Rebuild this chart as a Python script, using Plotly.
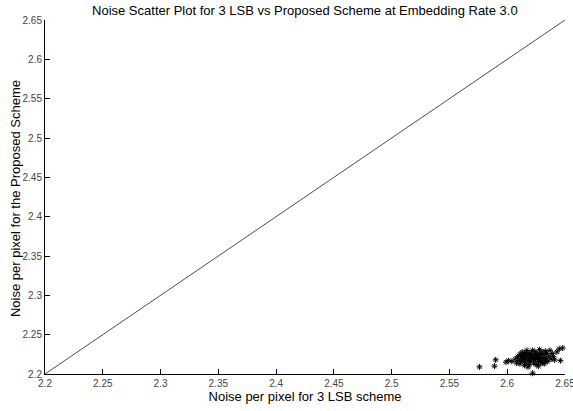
import plotly.graph_objects as go

x_lsb = [2.576, 2.589, 2.590, 2.599, 2.601, 2.604, 2.607, 2.608, 2.609, 2.610,
         2.611, 2.611, 2.612, 2.613, 2.613, 2.614, 2.615, 2.615, 2.616, 2.616,
         2.617, 2.617, 2.618, 2.618, 2.619, 2.619, 2.620, 2.620, 2.621, 2.621,
         2.622, 2.622, 2.623, 2.623, 2.624, 2.624, 2.625, 2.625, 2.626, 2.626,
         2.627, 2.627, 2.628, 2.628, 2.629, 2.629, 2.630, 2.630, 2.631, 2.632,
         2.632, 2.633, 2.634, 2.634, 2.635, 2.636, 2.637, 2.638, 2.639, 2.640,
         2.641, 2.643, 2.645, 2.646, 2.648, 2.612, 2.618, 2.622, 2.627, 2.633,
         2.614, 2.620, 2.625, 2.630, 2.617, 2.624]
y_prop = [2.209, 2.210, 2.218, 2.215, 2.217, 2.216, 2.219, 2.214, 2.222, 2.217,
          2.225, 2.213, 2.220, 2.228, 2.216, 2.222, 2.211, 2.226, 2.219, 2.214,
          2.230, 2.222, 2.217, 2.225, 2.212, 2.221, 2.227, 2.216, 2.223, 2.219,
          2.201, 2.225, 2.214, 2.221, 2.228, 2.218, 2.223, 2.212, 2.220, 2.226,
          2.216, 2.223, 2.231, 2.219, 2.225, 2.214, 2.221, 2.228, 2.218, 2.224,
          2.213, 2.229, 2.220, 2.226, 2.216, 2.223, 2.230, 2.219, 2.226, 2.222,
          2.218, 2.228, 2.232, 2.217, 2.233, 2.224, 2.209, 2.230, 2.210, 2.217,
          2.218, 2.222, 2.226, 2.215, 2.226, 2.220]

diag = [2.2, 2.65]
ticks = [2.2, 2.25, 2.3, 2.35, 2.4, 2.45, 2.5, 2.55, 2.6, 2.65]
tick_text = ["2.2", "2.25", "2.3", "2.35", "2.4", "2.45", "2.5", "2.55", "2.6", "2.65"]

FONT = "Arial, Liberation Sans, sans-serif"

fig = go.Figure()
fig.add_trace(go.Scatter(x=diag, y=diag, mode="lines",
                         line=dict(color="black", width=0.7), showlegend=False,
                         cliponaxis=False))
fig.add_trace(go.Scatter(x=x_lsb, y=y_prop, mode="markers",
                         marker=dict(symbol="asterisk-open", size=5, color="black",
                                     line=dict(color="black", width=1)),
                         showlegend=False, cliponaxis=False))

axis_common = dict(range=[2.2, 2.65], tickvals=ticks, ticktext=tick_text,
                   ticks="inside", ticklen=5, tickcolor="black",
                   showline=True, linecolor="black", linewidth=1,
                   showgrid=False, zeroline=False, automargin=False,
                   ticklabeloverflow="allow",
                   tickfont=dict(family=FONT, size=10, color="#444"),
                   mirror=False)

fig.update_layout(
    width=573, height=411,
    margin=dict(l=45, r=8, t=20, b=37),
    paper_bgcolor="white", plot_bgcolor="white",
    title=dict(text="Noise Scatter Plot for 3 LSB vs Proposed Scheme at Embedding Rate 3.0",
               x=0.532, xanchor="center", y=0.975, yanchor="middle",
               font=dict(family=FONT, size=13, color="black")),
    xaxis=dict(**axis_common,
               title=dict(text="Noise per pixel for 3 LSB scheme", standoff=2,
                          font=dict(family=FONT, size=13, color="black"))),
    yaxis=dict(**axis_common),
    annotations=[dict(text="Noise per pixel for the Proposed Scheme",
                      xref="paper", yref="paper", x=-0.0577, y=0.497,
                      xanchor="center", yanchor="middle", textangle=-90,
                      showarrow=False,
                      font=dict(family=FONT, size=13, color="black"))],
)

fig.write_html("out.html", config={"displayModeBar": False},
               post_script="document.body.style.margin='0';")
